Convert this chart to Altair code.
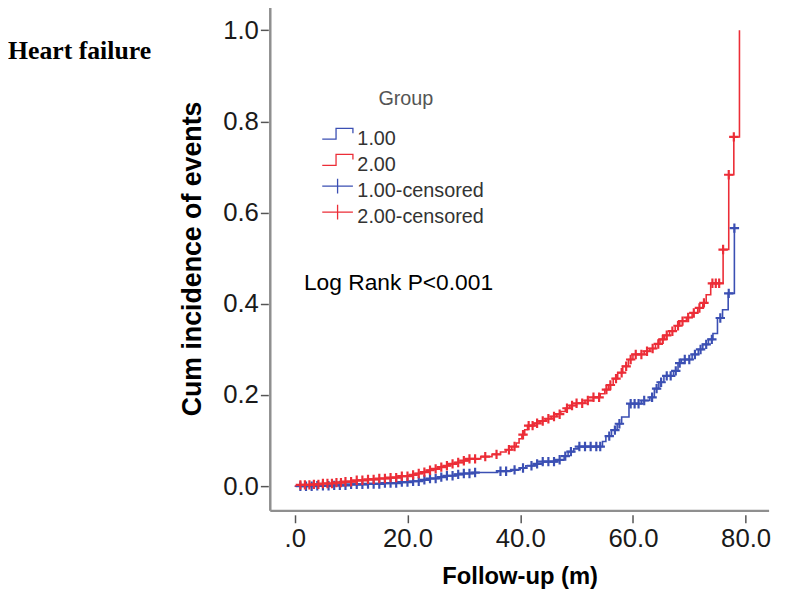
import bisect
import altair as alt
import pandas as pd

# ---------------- data ----------------
# Group 1.00 (blue) cumulative-incidence step curve
g1_time = [0, 3.5, 7, 10, 13, 16, 19, 21, 22.5, 24, 25.5, 27, 28.5, 30, 31.5, 36, 38.5,
           40, 41, 42.5, 44, 46.5, 47.8, 48.5, 49.5, 50.3, 54.6, 55.2, 56.2, 57.2, 58,
           59.3, 61.5, 63, 63.8, 64.6, 65.5, 67.2, 68, 68.6, 70.5, 71.6, 72.4, 73.4,
           74.2, 75, 75.9, 76.9, 78.0]
g1_value = [0.0, 0.001, 0.002, 0.004, 0.005, 0.007, 0.009, 0.011, 0.014, 0.017, 0.020,
            0.023, 0.026, 0.028, 0.030, 0.033, 0.036, 0.040, 0.045, 0.049, 0.054, 0.058,
            0.066, 0.076, 0.082, 0.087, 0.098, 0.110, 0.123, 0.137, 0.152, 0.181, 0.188,
            0.195, 0.214, 0.228, 0.242, 0.253, 0.270, 0.278, 0.289, 0.300, 0.311, 0.322,
            0.335, 0.369, 0.387, 0.423, 0.566]
g1_censored = [1, 2, 3, 4, 5, 6, 7, 8, 9, 10, 11, 12, 13, 14, 15, 16, 17, 18, 19, 20, 21,
               22, 23, 24, 25, 26, 27, 28, 29, 30, 31, 32, 36.5, 37.5, 39, 40.5, 42, 43,
               44, 45, 46, 47, 48, 49, 50.5, 51.5, 52.5, 53.5, 54.2, 55.8, 56.8, 57.6,
               59.6, 60.3, 61, 62, 63.4, 64.2, 65, 66, 66.7, 67.6, 68.3, 69.2, 70, 71,
               72, 73, 74, 75.5, 77, 78]

# Group 2.00 (red) cumulative-incidence step curve
g2_time = [0, 0.5, 3, 5, 7, 9, 11, 13, 15, 17, 19, 20.5, 21.5, 22.5, 23.5, 24.5, 25.5,
           26.5, 27.5, 28.5, 30, 31, 33, 35, 36.5, 37.5, 38.5, 39.3, 39.8, 40.3, 40.8,
           41.3, 42.5, 43.5, 44.5, 45.5, 46.5, 47.2, 48, 48.8, 50, 51.5, 53, 54.2, 55,
           55.7, 56.5, 57.3, 58.2, 59.2, 60, 62, 63, 64, 64.8, 65.6, 66.5, 67.5, 68.3,
           69.5, 70.5, 71.5, 72.4, 73, 73.8, 76.0, 77.0, 77.9, 78.9]
g2_value = [0.0, 0.003, 0.004, 0.006, 0.008, 0.010, 0.013, 0.015, 0.017, 0.019, 0.022,
            0.025, 0.028, 0.031, 0.035, 0.038, 0.042, 0.045, 0.049, 0.052, 0.056, 0.060,
            0.065, 0.070, 0.075, 0.080, 0.087, 0.095, 0.104, 0.113, 0.124, 0.133, 0.138,
            0.143, 0.148, 0.153, 0.158, 0.164, 0.171, 0.177, 0.182, 0.188, 0.195, 0.203,
            0.212, 0.222, 0.236, 0.249, 0.263, 0.278, 0.289, 0.296, 0.302, 0.312, 0.322,
            0.331, 0.340, 0.352, 0.362, 0.370, 0.380, 0.391, 0.402, 0.420, 0.445, 0.519,
            0.683, 0.766, 1.0]
g2_censored = [1, 1.8, 2.6, 3.4, 4.2, 5, 5.8, 6.6, 7.4, 8.2, 9, 10, 11, 12, 13, 14, 15, 16,
               17, 18, 19, 20, 21, 22, 23, 24, 25, 26, 27, 28, 29, 30, 31, 32, 33.8,
               35.8, 38, 39, 40.5, 41.5, 42.2, 43, 44, 45, 46, 47, 48.3, 49.2, 50, 51,
               52, 53, 54, 55.3, 56, 57, 58, 58.8, 59.6, 60.5, 61.5, 62.5, 63.5, 64.5,
               65.3, 66, 67, 68, 68.8, 69.8, 70.8, 71.8, 72.6, 74.1, 74.7, 75.3, 76,
               77, 77.9]

group_names = ["1.00", "2.00"]
legend_labels = ["1.00", "2.00", "1.00-censored", "2.00-censored"]
x_ticks = [0, 20, 40, 60, 80]
y_ticks = [0.0, 0.2, 0.4, 0.6, 0.8, 1.0]

# ---------------- styling ----------------
BLUE = "#3b4fb3"
RED = "#ec2d37"
FONT = "Liberation Sans"
W, H = 504, 505
X_DOM = [-4.34, 84.16]
Y_DOM = [-0.054, 1.042]
CROSS = "M-1,0H1M0,-1V1"
STEP_SYM = "M-1,0.355H-0.1V-0.355H1V-0.03"
CROSS_SYM = "M-1,0H1M0,-0.48V0.48"


def step_value(times, values, t):
    i = bisect.bisect_right(times, t) - 1
    return values[max(i, 0)]


curve_rows = []
cens_rows = []
for name, ts, vs, cs in [("1.00", g1_time, g1_value, g1_censored),
                         ("2.00", g2_time, g2_value, g2_censored)]:
    for t, v in zip(ts, vs):
        curve_rows.append({"group": name, "time": t, "value": v})
    for c in cs:
        cens_rows.append({"group": name, "time": c, "value": step_value(ts, vs, c)})
curves = pd.DataFrame(curve_rows)
cens = pd.DataFrame(cens_rows)

xscale = alt.Scale(domain=X_DOM, nice=False, zero=False)
yscale = alt.Scale(domain=Y_DOM, nice=False, zero=False)
cscale = alt.Scale(domain=group_names, range=[BLUE, RED])

x_axis = alt.Axis(
    values=x_ticks, domain=False, grid=False, offset=4, tickSize=8, tickWidth=1.5,
    tickColor="#555555", labelFont=FONT, labelFontSize=26, labelColor="#1a1a1a",
    labelPadding=3, labelExpr="datum.value == 0 ? '.0' : format(datum.value, '.1f')",
    title="Follow-up (m)", titleFont=FONT, titleFontSize=24, titleFontWeight="bold",
    titleColor="#000000", titlePadding=13,
)
y_axis = alt.Axis(
    values=y_ticks, domain=False, grid=False, offset=2, tickSize=8, tickWidth=1.5,
    tickColor="#555555", labelFont=FONT, labelFontSize=26, labelColor="#1a1a1a",
    labelPadding=2, format=".1f",
    title="Cum incidence of events", titleFont=FONT, titleFontSize=27,
    titleFontWeight="bold", titleColor="#000000",
    titleAngle=270, titleAlign="center", titleBaseline="alphabetic",
    titleX=-68, titleY=250,
)

lines = alt.Chart(curves).mark_line(interpolate="step-after", strokeWidth=1.6).encode(
    x=alt.X("time:Q", scale=xscale, axis=x_axis),
    y=alt.Y("value:Q", scale=yscale, axis=y_axis),
    color=alt.Color("group:N", scale=cscale, legend=None),
    detail="group:N",
    order="time:Q",
)

points = alt.Chart(cens).mark_point(shape=CROSS, filled=False, size=90, strokeWidth=2.2,
                                    opacity=1).encode(
    x=alt.X("time:Q", scale=xscale),
    y=alt.Y("value:Q", scale=yscale),
    color=alt.Color("group:N", scale=cscale, legend=None),
)

frame_df = pd.DataFrame({"k": [0]})
left_line = alt.Chart(frame_df).mark_rule(color="#8f8f8f", strokeWidth=2.5).encode(
    x=alt.value(0), y=alt.value(-5), y2=alt.value(H))
bottom_line = alt.Chart(frame_df).mark_rule(color="#8f8f8f", strokeWidth=2.5).encode(
    x=alt.value(0), x2=alt.value(W), y=alt.value(H))

layers = [left_line, bottom_line, lines, points]

# legend (drawn manually to reproduce the SPSS style)
legend_colors = [BLUE, RED, BLUE, RED]
legend_shapes = [STEP_SYM, STEP_SYM, CROSS_SYM, CROSS_SYM]
for i, (lab, col, shp) in enumerate(zip(legend_labels, legend_colors, legend_shapes)):
    base_y = 135 + i * 26.4
    df = pd.DataFrame({"label": [lab]})
    layers.append(alt.Chart(df).mark_point(shape=shp, filled=False, size=961,
                                           strokeWidth=1.3, opacity=1).encode(
        x=alt.value(68), y=alt.value(base_y - 11), color=alt.value(col)))
    layers.append(alt.Chart(df).mark_text(font=FONT, fontSize=20, color="#333333",
                                          align="left", baseline="alphabetic").encode(
        x=alt.value(88), y=alt.value(base_y), text="label:N"))

title_df = pd.DataFrame({"label": ["Group"]})
layers.append(alt.Chart(title_df).mark_text(font=FONT, fontSize=20, color="#555555",
                                            align="center", baseline="alphabetic").encode(
    x=alt.value(137), y=alt.value(94.5), text="label:N"))

logrank_df = pd.DataFrame({"label": ["Log Rank P<0.001"]})
layers.append(alt.Chart(logrank_df).mark_text(font=FONT, fontSize=23, color="#000000",
                                              align="left", baseline="alphabetic").encode(
    x=alt.value(34), y=alt.value(282), text="label:N"))

hf_df = pd.DataFrame({"label": ["Heart failure"]})
layers.append(alt.Chart(hf_df).mark_text(font="Liberation Serif", fontSize=26,
                                         fontWeight="bold", color="#000000",
                                         align="left", baseline="alphabetic").encode(
    x=alt.value(-265), y=alt.value(48), text="label:N"))

chart = alt.layer(*layers).properties(
    width=W, height=H,
    autosize=alt.AutoSizeParams(type="none"),
    padding={"left": 265, "top": 0, "right": 10, "bottom": 90},
    background="white",
).configure_view(stroke=None)

chart.save("out.html", embed_options={"renderer": "svg", "actions": False})
